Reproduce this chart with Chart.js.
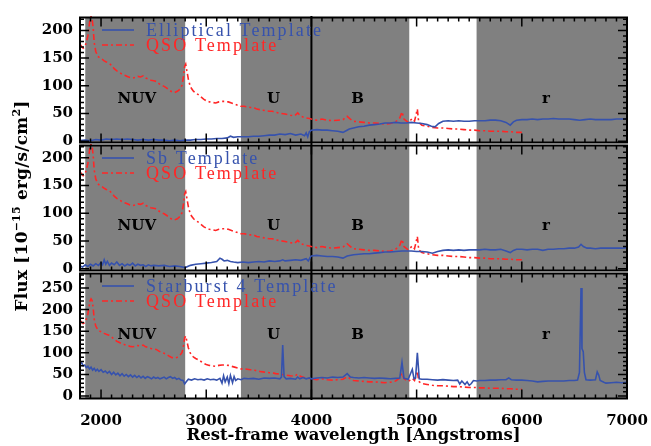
<!DOCTYPE html>
<html>
<head>
<meta charset="utf-8">
<script src="https://cdn.jsdelivr.net/npm/chart.js@4.4.1/dist/chart.umd.min.js"></script>
<style>
  html, body { margin: 0; padding: 0; background: #fff; }
</style>
</head>
<body>
<canvas id="spec" width="651" height="446"></canvas>
<script>
'use strict';

// wavelength range (Angstroms) and tick labels
const X_MIN = 1800;
const X_MAX = 7000;
const xTicks = [2000, 3000, 4000, 5000, 6000, 7000];
const yTicksLow = [0, 50, 100, 150, 200];
const yTicksHigh = [0, 50, 100, 150, 200, 250];

// filter bands shaded in grey
const bandNames = ['NUV', 'U', 'B', 'r'];
const bandStart = [1850, 3330, 4000, 5570];
const bandEnd = [2800, 4000, 4930, 7000];
const bandLabelWave = [2340, 3640, 4440, 6230];
const bandLabelFlux = [76, 77, 141];
const breakWave = 4000;

const galaxyNames = ['Elliptical Template', 'Sb Template', 'Starburst 4 Template'];
const qsoName = 'QSO Template';

const qsoWave = [1800, 1815, 1830, 1845, 1860, 1875, 1885, 1895, 1905, 1915, 1925, 1935, 1950, 1970, 1990,
  2010, 2030, 2050, 2075, 2100, 2125, 2150, 2175, 2200, 2225, 2250, 2275, 2300, 2325, 2350, 2375, 2400,
  2425, 2450, 2475, 2500, 2525, 2550, 2575, 2600, 2625, 2650, 2675, 2700, 2725, 2750, 2770, 2785, 2795,
  2805, 2815, 2830, 2845, 2860, 2880, 2900, 2925, 2950, 2975, 3000, 3030, 3060, 3090, 3120, 3150, 3180,
  3210, 3240, 3270, 3300, 3330, 3360, 3390, 3420, 3450, 3480, 3510, 3540, 3570, 3600, 3630, 3660, 3690,
  3750, 3800, 3840, 3870, 3900, 3950, 3980, 4000, 4050, 4100, 4150, 4200, 4250, 4300, 4340, 4370, 4400,
  4450, 4500, 4550, 4600, 4650, 4700, 4750, 4800, 4840, 4861, 4880, 4920, 4959, 4980, 5007, 5020, 5050,
  5100, 5150, 5200, 5250, 5300, 5350, 5400, 5450, 5500, 5550, 5600, 5650, 5700, 5750, 5800, 5850, 5900,
  5950, 6000];
const qsoFlux = [175, 171, 168, 170, 178, 190, 205, 220, 225, 221, 205, 178, 162, 153, 150,
  148, 145, 143, 141, 137, 131, 127, 124, 121, 119, 117, 115, 114, 115, 117, 116, 118,
  114, 112, 110, 109, 108, 104, 101, 99, 96, 92, 89, 88, 90, 94, 101, 118, 135,
  139, 128, 112, 101, 95, 90, 87, 84, 80, 76, 73, 71, 70, 69, 71, 72, 72,
  71, 69, 67, 65, 63, 63, 62, 61, 61, 58, 57, 56, 55, 54, 54, 52, 51,
  49, 47, 46, 51, 45, 42, 41, 40, 38, 40, 38, 37, 38, 39, 45, 40, 36,
  35, 34, 33, 33, 32, 31, 32, 35, 42, 53, 40, 34, 41, 36, 58, 34, 29,
  27, 25, 24, 24, 23, 22, 22, 21, 20, 20, 19, 19, 18, 18, 18, 17, 17,
  16, 16];

const ellWave = [1800, 1850, 1900, 1950, 2000, 2050, 2100, 2150, 2200, 2250, 2300, 2350, 2400, 2450, 2500,
  2550, 2600, 2650, 2700, 2750, 2800, 2850, 2900, 2950, 3000, 3050, 3100, 3150, 3200, 3230, 3260, 3300,
  3350, 3400, 3450, 3500, 3550, 3600, 3650, 3700, 3750, 3800, 3850, 3900, 3935, 3950, 3965, 3980, 4000,
  4050, 4100, 4150, 4200, 4250, 4300, 4330, 4360, 4400, 4450, 4500, 4550, 4600, 4650, 4700, 4750, 4800,
  4850, 4900, 4950, 5000, 5050, 5100, 5140, 5175, 5210, 5250, 5300, 5350, 5400, 5450, 5500, 5550, 5600,
  5650, 5700, 5750, 5800, 5850, 5890, 5920, 5950, 6000, 6050, 6100, 6150, 6200, 6250, 6300, 6350, 6400,
  6450, 6500, 6550, 6600, 6650, 6700, 6750, 6800, 6850, 6900, 6950, 7000];
const ellFlux = [1, 2, 1, 3, 2, 4, 3, 4, 3, 4, 3, 2, 3, 2, 3,
  2, 2, 1, 2, 1, 2, 2, 3, 3, 4, 4, 5, 5, 6, 9, 7, 8,
  8, 8, 9, 9, 10, 11, 11, 13, 12, 14, 11, 13, 10, 15, 8, 17, 20,
  21, 20, 20, 19, 18, 16, 19, 22, 24, 26, 27, 29, 30, 31, 33, 33, 34,
  33, 33, 34, 33, 32, 30, 27, 26, 32, 36, 37, 36, 37, 36, 36, 37, 37,
  37, 38, 38, 37, 34, 29, 35, 38, 39, 39, 40, 39, 40, 40, 41, 40, 40,
  40, 39, 38, 39, 40, 39, 39, 39, 39, 40, 40, 40];

const sbWave = [1800, 1825, 1850, 1875, 1900, 1925, 1950, 1975, 2000, 2015, 2030, 2045, 2060, 2080, 2100,
  2125, 2150, 2175, 2200, 2225, 2250, 2275, 2300, 2325, 2350, 2375, 2400, 2425, 2450, 2475, 2500, 2550,
  2600, 2650, 2700, 2750, 2800, 2850, 2900, 2950, 3000, 3050, 3100, 3130, 3150, 3170, 3200, 3230, 3260,
  3300, 3350, 3400, 3450, 3500, 3550, 3600, 3650, 3700, 3727, 3750, 3800, 3850, 3900, 3950, 3970, 3990,
  4000, 4050, 4100, 4150, 4200, 4250, 4300, 4340, 4400, 4450, 4500, 4550, 4600, 4650, 4700, 4750, 4800,
  4861, 4900, 4950, 5000, 5050, 5100, 5150, 5200, 5250, 5300, 5350, 5400, 5450, 5500, 5550, 5600, 5650,
  5700, 5750, 5800, 5850, 5890, 5920, 5950, 6000, 6050, 6100, 6150, 6200, 6250, 6300, 6350, 6400, 6450,
  6500, 6540, 6563, 6585, 6620, 6650, 6700, 6750, 6800, 6850, 6900, 6950, 7000];
const sbFlux = [5, 3, 7, 4, 8, 5, 9, 6, 11, 7, 16, 8, 13, 6, 10,
  7, 12, 6, 9, 5, 8, 6, 10, 5, 8, 6, 7, 4, 7, 5, 6, 5,
  6, 4, 5, 4, 2, 6, 8, 9, 10, 11, 13, 19, 17, 14, 15, 13, 12,
  11, 12, 11, 12, 13, 12, 14, 13, 14, 16, 14, 15, 16, 15, 18, 14, 21,
  23, 24, 23, 22, 22, 21, 19, 23, 25, 26, 27, 27, 28, 29, 30, 30, 31,
  32, 32, 32, 31, 31, 30, 28, 31, 33, 34, 33, 34, 33, 34, 34, 34, 35,
  34, 34, 35, 32, 29, 33, 35, 35, 34, 35, 35, 33, 35, 35, 36, 36, 37,
  37, 39, 44, 40, 37, 37, 36, 37, 37, 37, 37, 37, 38];

const sb4Wave = [1800, 1815, 1830, 1845, 1860, 1875, 1890, 1905, 1920, 1935, 1950, 1965, 1980, 2000, 2020,
  2040, 2060, 2080, 2100, 2120, 2140, 2160, 2180, 2200, 2220, 2240, 2260, 2280, 2300, 2320, 2340, 2360,
  2380, 2400, 2420, 2440, 2460, 2480, 2500, 2520, 2540, 2560, 2580, 2600, 2620, 2640, 2660, 2680, 2700,
  2720, 2740, 2760, 2780, 2795, 2810, 2830, 2860, 2890, 2920, 2950, 2980, 3010, 3040, 3070, 3100, 3130,
  3150, 3165, 3180, 3200, 3215, 3230, 3250, 3265, 3280, 3300, 3330, 3360, 3400, 3450, 3500, 3550, 3600,
  3650, 3700, 3715, 3727, 3740, 3760, 3800, 3850, 3869, 3890, 3920, 3950, 3980, 4000, 4050, 4100, 4150,
  4200, 4250, 4300, 4340, 4370, 4400, 4450, 4500, 4550, 4600, 4650, 4700, 4750, 4800, 4840, 4861, 4880,
  4920, 4959, 4975, 4990, 5007, 5025, 5050, 5100, 5150, 5200, 5250, 5300, 5350, 5390, 5410, 5430, 5460,
  5480, 5500, 5520, 5540, 5570, 5600, 5650, 5700, 5750, 5800, 5850, 5876, 5900, 5950, 6000, 6050, 6100,
  6150, 6200, 6250, 6300, 6350, 6400, 6450, 6500, 6530, 6548, 6563, 6572, 6584, 6595, 6610, 6650, 6700,
  6717, 6731, 6745, 6780, 6800, 6850, 6900, 6950, 7000];
const sb4Flux = [74, 78, 70, 72, 66, 69, 63, 67, 60, 64, 58, 62, 57, 61, 55,
  58, 53, 57, 50, 55, 49, 53, 47, 52, 46, 50, 45, 49, 44, 48, 43, 47,
  42, 46, 41, 45, 43, 40, 44, 41, 43, 40, 42, 44, 40, 43, 45, 41, 43,
  39, 41, 37, 36, 28, 33, 39, 37, 40, 38, 39, 37, 40, 38, 39, 37, 41,
  30, 47, 33, 44, 29, 48, 31, 45, 36, 40, 38, 41, 40, 41, 39, 42, 41,
  42, 40, 44, 118, 45, 40, 41, 39, 44, 40, 43, 40, 42, 40, 42, 43, 42,
  44, 43, 44, 52, 44, 43, 42, 43, 42, 41, 42, 41, 40, 41, 42, 78, 41,
  39, 62, 40, 42, 100, 40, 39, 39, 38, 37, 38, 37, 36, 37, 28, 35, 27,
  33, 25, 29, 36, 35, 36, 36, 37, 37, 38, 38, 42, 38, 37, 37, 36, 35,
  33, 34, 35, 35, 35, 35, 36, 36, 37, 55, 250, 110, 103, 55, 38, 37, 38,
  56, 49, 36, 32, 30, 31, 32, 31, 32];

const BLUE = '#3652ad';
const RED = '#ff2626';
const GRAY = '#808080';
const SERIF = '"DejaVu Serif", serif';
const QSO_DASH = [6, 3, 2, 3];
const panelIds = ['y1', 'y2', 'y3'];

const pts = (w, f) => w.map((x, i) => ({ x, y: f[i] }));

function galaxySet(w, f, axis) {
  return { data: pts(w, f), yAxisID: axis, borderColor: BLUE, borderWidth: 1.6, pointRadius: 0, tension: 0 };
}
function qsoSet(axis) {
  return { data: pts(qsoWave, qsoFlux), yAxisID: axis, borderColor: RED, borderWidth: 1.6,
    borderDash: QSO_DASH, pointRadius: 0, tension: 0 };
}

const tickFont = { family: SERIF, size: 15, weight: 'bold' };

function yAxis(min, max, ticks, weight) {
  return {
    type: 'linear', position: 'left', stack: 'panels', stackWeight: 1, weight,
    min, max,
    grid: { display: false, drawTicks: false },
    border: { display: false },
    afterBuildTicks: (s) => { s.ticks = ticks.map((v) => ({ value: v })); },
    afterFit: (s) => { s.width = 80; },
    ticks: { color: '#000', font: tickFont, padding: 7, autoSkip: false, callback: (v) => String(v) }
  };
}

const panelsPlugin = {
  id: 'panels',
  beforeDatasetsDraw(chart) {
    const { ctx, chartArea: a, scales } = chart;
    const x = scales.x;
    ctx.save();
    panelIds.forEach((id, p) => {
      const y = scales[id];
      ctx.fillStyle = GRAY;
      bandStart.forEach((lo, i) => {
        const x0 = x.getPixelForValue(lo);
        const x1 = x.getPixelForValue(bandEnd[i]);
        ctx.fillRect(x0, y.top + 1, x1 - x0, y.bottom - y.top - 2);
      });
      ctx.fillStyle = '#000';
      ctx.font = `bold 15px ${SERIF}`;
      ctx.textAlign = 'center';
      ctx.textBaseline = 'middle';
      bandNames.forEach((name, i) => {
        ctx.fillText(name, x.getPixelForValue(bandLabelWave[i]), y.getPixelForValue(bandLabelFlux[p]));
      });
    });
    const bx = x.getPixelForValue(breakWave);
    ctx.strokeStyle = '#000';
    ctx.lineWidth = 2;
    ctx.beginPath();
    ctx.moveTo(bx, a.top);
    ctx.lineTo(bx, a.bottom);
    ctx.stroke();
    ctx.restore();
  },
  afterDatasetsDraw(chart) {
    const { ctx, chartArea: a, scales } = chart;
    const x = scales.x;
    ctx.save();
    panelIds.forEach((id, p) => {
      const y = scales[id];
      const top = y.top + 1.5;
      const bot = y.bottom - 1.5;

      // inward ticks on all four sides
      ctx.strokeStyle = '#000';
      ctx.lineWidth = 1.5;
      ctx.beginPath();
      for (let v = X_MIN; v <= X_MAX; v += 100) {
        const px = x.getPixelForValue(v);
        const len = v % 1000 === 0 ? 9 : 4;
        ctx.moveTo(px, top); ctx.lineTo(px, top + len);
        ctx.moveTo(px, bot); ctx.lineTo(px, bot - len);
      }
      for (let v = Math.ceil(y.min / 10) * 10; v <= y.max; v += 10) {
        const py = y.getPixelForValue(v);
        const len = v % 50 === 0 ? 9 : 4;
        ctx.moveTo(a.left, py); ctx.lineTo(a.left + len, py);
        ctx.moveTo(a.right, py); ctx.lineTo(a.right - len, py);
      }
      ctx.stroke();
      ctx.lineWidth = 2;
      ctx.strokeRect(a.left, top, a.right - a.left, bot - top);

      // legend
      const ly1 = y.top + 14;
      const ly2 = y.top + 29;
      const lx0 = a.left + 22;
      const lx1 = a.left + 54;
      ctx.lineWidth = 1.6;
      ctx.strokeStyle = BLUE;
      ctx.beginPath(); ctx.moveTo(lx0, ly1); ctx.lineTo(lx1, ly1); ctx.stroke();
      ctx.strokeStyle = RED;
      ctx.setLineDash(QSO_DASH);
      ctx.beginPath(); ctx.moveTo(lx0, ly2); ctx.lineTo(lx1, ly2); ctx.stroke();
      ctx.setLineDash([]);
      ctx.font = '18px "Liberation Serif", serif';
      ctx.letterSpacing = '2.1px';
      ctx.textAlign = 'left';
      ctx.textBaseline = 'alphabetic';
      ctx.fillStyle = BLUE;
      ctx.fillText(galaxyNames[p], a.left + 66, ly1 + 5.5);
      ctx.fillStyle = RED;
      ctx.fillText(qsoName, a.left + 66, ly2 + 5.5);
      ctx.letterSpacing = '0px';
    });
    ctx.restore();
  },
  afterDraw(chart) {
    // y title with superscripts
    const { ctx, chartArea: a } = chart;
    const parts = [['Flux [10', false], ['\u221215', true], [' erg/s/cm', false], ['2', true], [']', false]];
    const big = `bold 17px ${SERIF}`;
    const small = `bold 11px ${SERIF}`;
    ctx.save();
    ctx.letterSpacing = '0.2px';
    let total = 0;
    parts.forEach(([t, sup]) => { ctx.font = sup ? small : big; total += ctx.measureText(t).width; });
    ctx.translate(27, (a.top + a.bottom) / 2);
    ctx.rotate(-Math.PI / 2);
    ctx.fillStyle = '#000';
    ctx.textBaseline = 'alphabetic';
    ctx.textAlign = 'left';
    let cx = -total / 2 + 2;
    parts.forEach(([t, sup]) => {
      ctx.font = sup ? small : big;
      ctx.fillText(t, cx, sup ? -7 : 0);
      cx += ctx.measureText(t).width;
    });
    ctx.restore();
  }
};

new Chart(document.getElementById('spec'), {
  type: 'line',
  data: {
    datasets: [
      galaxySet(ellWave, ellFlux, 'y1'), qsoSet('y1'),
      galaxySet(sbWave, sbFlux, 'y2'), qsoSet('y2'),
      galaxySet(sb4Wave, sb4Flux, 'y3'), qsoSet('y3')
    ]
  },
  options: {
    responsive: false,
    animation: false,
    layout: { padding: { top: 12, right: 24, left: 0, bottom: 0 } },
    plugins: { legend: { display: false }, tooltip: { enabled: false } },
    scales: {
      x: {
        type: 'linear', min: X_MIN, max: X_MAX,
        grid: { display: false, drawTicks: false },
        border: { display: false },
        afterBuildTicks: (s) => { s.ticks = xTicks.map((v) => ({ value: v })); },
        afterFit: (s) => { s.height = 46; s.paddingLeft = 0; s.paddingRight = 0; },
        ticks: { color: '#000', font: tickFont, padding: 12, maxRotation: 0, autoSkip: false,
          callback: (v) => String(v) },
        title: { display: true, text: 'Rest-frame wavelength [Angstroms]', color: '#000',
          font: { family: SERIF, size: 16.5, weight: 'bold' }, padding: { top: 0, bottom: 0 } }
      },
      y3: yAxis(-9, 287, yTicksHigh, 1),
      y2: yAxis(-6, 225, yTicksLow, 2),
      y1: yAxis(-5, 226, yTicksLow, 3)
    }
  },
  plugins: [panelsPlugin]
});
</script>
</body>
</html>
